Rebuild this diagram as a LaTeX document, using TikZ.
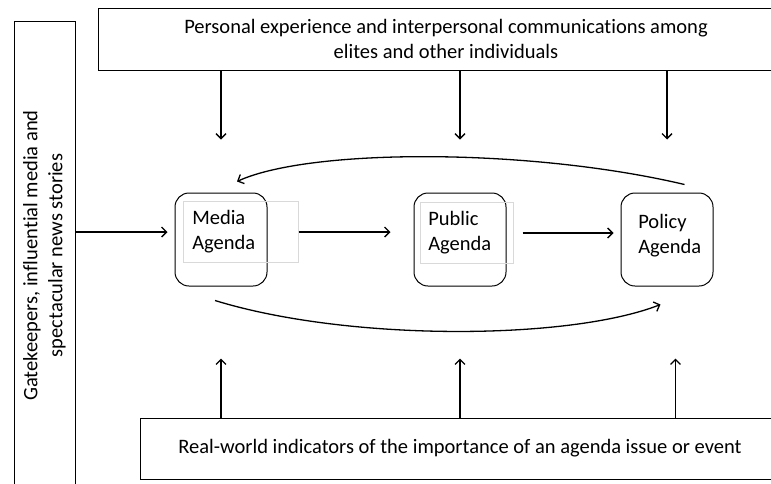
\documentclass[tikz,border=0pt]{standalone}
\usepackage{fontspec}
\setmainfont{Carlito}[Ligatures=NoCommon]
\usetikzlibrary{arrows.meta,positioning}
\tikzset{outer box/.style={draw,line width=1pt,inner sep=0pt,align=center},
         agenda/.style={draw,rounded corners=14pt,minimum width=92pt,minimum height=93pt,line width=1pt,inner sep=0pt},
         text box/.style={draw=black!15,line width=0.6pt,align=left,inner ysep=0pt,minimum height=61pt,anchor=west},
         arr/.style={-{Straight Barb[length=5pt,width=10pt]},line width=1.3pt}
}
\begin{document}
\begin{tikzpicture}[x=1pt,y=-1pt,
font=\fontsize{20.5}{25}\selectfont]
\useasboundingbox (0,0) rectangle (771,483);
% outer sources
\node[outer box, rotate=90, minimum width=469pt, minimum height=61pt] (gate) at (44.5,255.5) {Gatekeepers, influential media and\\spectacular news stories};
\node[outer box, minimum width=696pt, minimum height=62pt] (pers) at (446,39) {Personal experience and interpersonal communications among\\elites and other individuals};
\node[outer box, minimum width=640pt, minimum height=61pt] (real) at (460,448.5) {Real-world indicators of the importance of an agenda issue or event};
% agendas
\node[agenda] (media) at (221,239.5) {};
\node[agenda, right=146pt of media] (public) {};
\node[agenda, right=114pt of public] (policy) {};
\node[text box, text width=97pt, inner xsep=9pt] (mediatxt) at (183,232) {Media\\Agenda};
\node[text box, text width=77pt, inner xsep=8pt] (publictxt) at (420,233) {Public\\Agenda};
\node[text box, draw=none, text width=77pt, inner xsep=8pt] (policytxt) at (630,235.5) {Policy\\Agenda};

\draw[arr, shorten >=7pt] (gate.south |- mediatxt.east) -- (media.west |- mediatxt.east);
\draw[arr, shorten >=23pt] (mediatxt.east) -- (mediatxt.east -| public.west);
\draw[arr, shorten <=9pt, shorten >=7pt] (publictxt.east) -- (publictxt.east -| policy.west);

\foreach \n in {media,public,policy}
  \draw[arr, shorten >=53pt] (pers.south -| \n.north) -- (\n.north);
\draw[arr, shorten >=72pt] (real.north -| media.south) -- (media.south);
\draw[arr, shorten >=72pt] (real.north -| public.south) -- (public.south);
\draw[arr, shorten >=72pt] ([xshift=8.5pt]real.north -| policy.south) -- ([xshift=8.5pt]policy.south);

\draw[arr] ([xshift=17.5pt,yshift=8pt]policy.north) .. controls (530,148) and (310,148) .. ([xshift=16pt,yshift=11pt]media.north);
\draw[arr] ([xshift=-6pt,yshift=-14pt]media.south) .. controls (350,342) and (570,340) .. ([xshift=-6.5pt,yshift=-18pt]policy.south);
\end{tikzpicture}
\end{document}
